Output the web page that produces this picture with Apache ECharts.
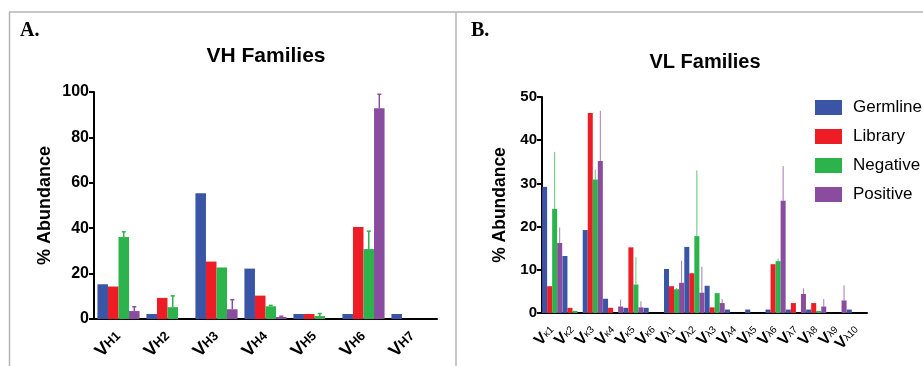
<!DOCTYPE html>
<html><head><meta charset="utf-8">
<script src="https://cdn.jsdelivr.net/npm/echarts@6/dist/echarts.min.js"></script>
<style>html,body{margin:0;padding:0;background:#fff}#c{width:923px;height:366px}</style>
</head><body><div id="c"></div>
<script>
// ---- Data ----
const seriesNames = ['Germline', 'Library', 'Negative', 'Positive'];

const vhCategories = ['VH1', 'VH2', 'VH3', 'VH4', 'VH5', 'VH6', 'VH7'];
const vhGermline = [15.3, 2.2, 55.4, 22.2, 2.2, 2.2, 2.2];
const vhLibrary  = [14.3, 9.3, 25.3, 10.3, 2.2, 40.5, 0];
const vhNegative = [36.1, 5.2, 22.7, 5.6, 1.3, 30.8, 0];
const vhPositive = [3.5, 0, 4.3, 0.9, 0, 92.8, 0];
const vhNegativeErr = [2.3, 5.0, 0, 0.4, 1.1, 7.9, 0];
const vhPositiveErr = [1.9, 0, 4.2, 0.3, 0, 6.2, 0];

const vlCategories = ['Vκ1','Vκ2','Vκ3','Vκ4','Vκ5','Vκ6','Vλ1','Vλ2','Vλ3','Vλ4','Vλ5','Vλ6','Vλ7','Vλ8','Vλ9','Vλ10'];
const vlGermline = [29.2, 13.2, 19.2, 3.3, 1.2, 1.2, 10.2, 15.3, 6.3, 0.8, 0.8, 0.8, 0.8, 0.8, 0, 0.8];
const vlLibrary  = [6.2, 1.2, 46.3, 1.2, 15.2, 0, 6.2, 9.2, 1.3, 0, 0, 11.3, 2.3, 2.3, 0, 0];
const vlNegative = [24.1, 0.5, 30.9, 0, 6.6, 0, 5.5, 17.8, 4.6, 0, 0, 12.0, 0, 0.5, 0, 0];
const vlPositive = [16.2, 0, 35.2, 1.5, 1.3, 0, 7.0, 4.7, 2.3, 0, 0, 26.0, 4.4, 1.5, 2.9, 0];
const vlNegativeErr = [13.2, 0, 2.3, 0, 6.3, 0, 0.3, 15.2, 0, 0, 0, 0.6, 0, 0, 0, 0];
const vlPositiveErr = [3.6, 0, 11.6, 1.6, 1.4, 0, 5.1, 6.0, 0.9, 0, 0, 8.0, 1.3, 1.7, 3.5, 0];

const vhTicks = { max: 100, interval: 20 };
const vlTicks = { max: 50, interval: 10 };

// ---- Styles ----
const colors = ['#3a54a6', '#ee1d25', '#2cb34b', '#8a4c9f'];
const FONT = '"Liberation Sans", Arial, sans-serif';

const chart = echarts.init(document.getElementById('c'), null, { renderer: 'canvas' });

function errSeries(name, gi, si, vals, errs, gapFrac, cap, lw, op) {
  return {
    type: 'custom', name: name, xAxisIndex: gi, yAxisIndex: gi, z: 5,
    legendHoverLink: false, silent: true,
    data: vals.map((v, i) => [i, v, errs[i]]),
    renderItem: function (params, api) {
      const s = api.value(2);
      if (!s) return null;
      const x = api.value(0), m = api.value(1);
      const p0 = api.coord([x, m]);
      const p1 = api.coord([x, m + s]);
      const band = api.size([1, 0])[0];
      const bw = band * (1 - gapFrac) / 4;
      const cx = p0[0] + (si - 1.5) * bw;
      const st = { stroke: colors[si], lineWidth: lw, opacity: op };
      const children = [{ type: 'line', shape: { x1: cx, y1: p0[1], x2: cx, y2: p1[1] }, style: st }];
      if (cap) children.push({ type: 'line', shape: { x1: cx - cap, y1: p1[1], x2: cx + cap, y2: p1[1] }, style: st });
      return { type: 'group', children: children };
    }
  };
}

const gapA = 0.14, gapB = 0.01;
const vhData = [vhGermline, vhLibrary, vhNegative, vhPositive];
const vlData = [vlGermline, vlLibrary, vlNegative, vlPositive];

const series = [];
vhData.forEach((d, i) => series.push({
  type: 'bar', name: seriesNames[i], xAxisIndex: 0, yAxisIndex: 0, data: d,
  barGap: '0%', barCategoryGap: (gapA * 100) + '%', itemStyle: { color: colors[i] }, silent: true
}));
vlData.forEach((d, i) => series.push({
  type: 'bar', name: seriesNames[i], xAxisIndex: 1, yAxisIndex: 1, data: d,
  barGap: '0%', barCategoryGap: (gapB * 100) + '%', itemStyle: { color: colors[i] }, silent: true
}));
series.push(errSeries('Negative', 0, 2, vhNegative, vhNegativeErr, gapA, 2, 1.5, 1));
series.push(errSeries('Positive', 0, 3, vhPositive, vhPositiveErr, gapA, 2, 1.5, 1));
series.push(errSeries('Negative', 1, 2, vlNegative, vlNegativeErr, gapB, 0, 1, 0.75));
series.push(errSeries('Positive', 1, 3, vlPositive, vlPositiveErr, gapB, 0, 1, 0.75));

function xAxisCfg(gi, cats, vSize, sSize, sWeight, margin) {
  return {
    type: 'category', gridIndex: gi, data: cats,
    axisLine: { lineStyle: { color: '#000', width: 2 } },
    axisTick: { alignWithLabel: true, length: 5, lineStyle: { color: '#000', width: 2 } },
    axisLabel: {
      interval: 0, rotate: 45, margin: margin, color: '#000',
      formatter: v => '{v|' + v.charAt(0) + '}{s|' + v.slice(1) + '}',
      rich: {
        v: { fontFamily: FONT, fontWeight: 'bold', fontSize: vSize, color: '#000' },
        s: { fontFamily: FONT, fontWeight: sWeight, fontSize: sSize, color: '#000' }
      }
    }
  };
}
function yAxisCfg(gi, t, fs, nameGap, nameSize) {
  return {
    type: 'value', gridIndex: gi, min: 0, max: t.max, interval: t.interval,
    name: '% Abundance', nameLocation: 'middle', nameGap: nameGap,
    nameTextStyle: { fontFamily: FONT, fontWeight: 'bold', fontSize: nameSize, color: '#000' },
    axisLine: { show: true, lineStyle: { color: '#000', width: 2 } },
    axisTick: { show: true, length: 5, lineStyle: { color: '#000', width: 2 } },
    axisLabel: { fontFamily: FONT, fontWeight: 'bold', fontSize: fs, color: '#000', margin: 5 },
    splitLine: { show: false }
  };
}

const frame = { stroke: '#b5b5b5', lineWidth: 1.5 };
chart.setOption({
  animation: false,
  textStyle: { fontFamily: FONT },
  grid: [
    { left: 94, top: 92, width: 343, height: 227 },
    { left: 542, top: 97, width: 325, height: 216 }
  ],
  xAxis: [xAxisCfg(0, vhCategories, 18, 13, 'bold', 15), xAxisCfg(1, vlCategories, 16, 10, 'normal', 15)],
  yAxis: [yAxisCfg(0, vhTicks, 16, 40, 18), yAxisCfg(1, vlTicks, 15, 33, 17.5)],
  legend: {
    data: seriesNames, orient: 'vertical', left: 810, top: 94,
    itemWidth: 27, itemHeight: 15, itemGap: 12, icon: 'rect',
    textStyle: { fontFamily: FONT, fontSize: 17, color: '#000', padding: [0, 0, 0, 6] },
    selectedMode: false
  },
  graphic: [
    { type: 'line', shape: { x1: 9, y1: 12, x2: 923, y2: 12 }, style: frame, silent: true },
    { type: 'line', shape: { x1: 9.5, y1: 12, x2: 9.5, y2: 366 }, style: frame, silent: true },
    { type: 'line', shape: { x1: 456, y1: 12, x2: 456, y2: 366 }, style: frame, silent: true },
    { type: 'text', left: 20, top: 21, style: { text: 'A.', font: 'bold 20px "Liberation Serif", "Times New Roman", serif', fill: '#000' } },
    { type: 'text', left: 471, top: 21, style: { text: 'B.', font: 'bold 20px "Liberation Serif", "Times New Roman", serif', fill: '#000' } },
    { type: 'text', x: 266, y: 56, style: { text: 'VH Families', font: 'bold 21px "Liberation Sans", Arial, sans-serif', fill: '#000', textAlign: 'center', textVerticalAlign: 'middle' } },
    { type: 'text', x: 705, y: 62, style: { text: 'VL Families', font: 'bold 20px "Liberation Sans", Arial, sans-serif', fill: '#000', textAlign: 'center', textVerticalAlign: 'middle' } }
  ],
  series: series
});
</script></body></html>
